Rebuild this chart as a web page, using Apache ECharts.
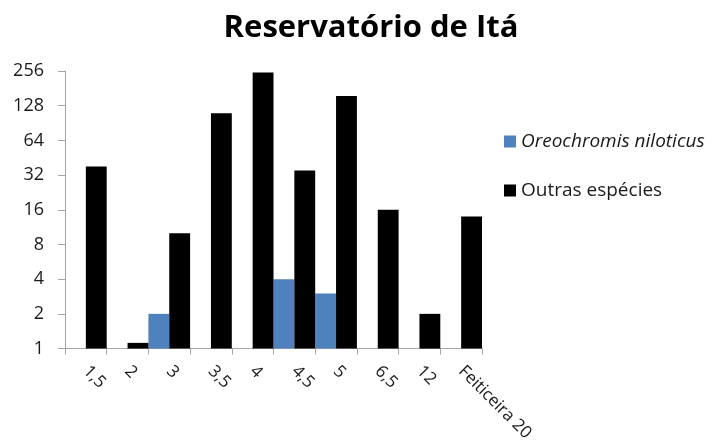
<!DOCTYPE html>
<html>
<head>
<meta charset="utf-8">
<script src="https://cdn.jsdelivr.net/npm/echarts@6/dist/echarts.min.js"></script>
<style>
  html, body { margin: 0; padding: 0; background: #fff; }
  #chart { width: 713px; height: 444px; }
</style>
</head>
<body>
<div id="chart"></div>
<script>
// Categories along the horizontal axis
const categories = ['1,5', '2', '3', '3,5', '4', '4,5', '5', '6,5', '12', 'Feiticeira 20'];
// Counts of Oreochromis niloticus (null where none)
const tilapia = [null, null, 2, null, null, 4, 3, null, null, null];
// Counts of other species
const others = [38, 1.12, 10, 110, 248, 35, 155, 16, 2, 14];
// Series names
const seriesNames = ['Oreochromis niloticus', 'Outras espécies'];

const font = 'Open Sans';
const textColor = '#1a1a1a';
const axisGray = '#a6a6a6';

const chart = echarts.init(document.getElementById('chart'), null, { renderer: 'canvas' });
chart.setOption({
  animation: false,
  backgroundColor: '#ffffff',
  title: {
    text: 'Reservatório de Itá',
    left: 366,
    textAlign: 'center',
    top: 8,
    textStyle: { fontFamily: font, fontWeight: 'bold', fontSize: 31, color: '#000' }
  },
  legend: {
    orient: 'vertical',
    left: 499,
    top: 127,
    itemWidth: 12,
    itemHeight: 12,
    itemGap: 30,
    icon: 'rect',
    textStyle: { fontFamily: font, fontSize: 19, color: textColor },
    data: [
      { name: seriesNames[0], textStyle: { fontStyle: 'italic' } },
      { name: seriesNames[1] }
    ]
  },
  grid: { left: 65, right: 231, top: 71, bottom: 94, containLabel: false },
  xAxis: {
    type: 'category',
    data: categories,
    boundaryGap: true,
    axisLine: { lineStyle: { color: axisGray, width: 1 } },
    axisTick: { show: true, length: 6, lineStyle: { color: axisGray } },
    axisLabel: {
      rotate: -45,
      margin: 20,
      interval: 0,
      fontFamily: font,
      fontSize: 17,
      color: textColor
    },
    splitLine: { show: false }
  },
  yAxis: {
    type: 'log',
    logBase: 2,
    min: 1,
    max: 256,
    interval: 1,
    axisLine: { show: true, lineStyle: { color: axisGray, width: 1 } },
    axisTick: { show: true, length: 7, lineStyle: { color: axisGray } },
    axisLabel: { margin: 21, fontFamily: font, fontSize: 18, color: textColor },
    splitLine: { show: false }
  },
  series: [
    {
      name: seriesNames[0],
      type: 'bar',
      data: tilapia,
      barGap: '0%',
      barCategoryGap: '0%',
      itemStyle: { color: '#4f81bd' }
    },
    {
      name: seriesNames[1],
      type: 'bar',
      data: others,
      barGap: '0%',
      barCategoryGap: '0%',
      itemStyle: { color: '#000000' }
    }
  ]
});
</script>
</body>
</html>
